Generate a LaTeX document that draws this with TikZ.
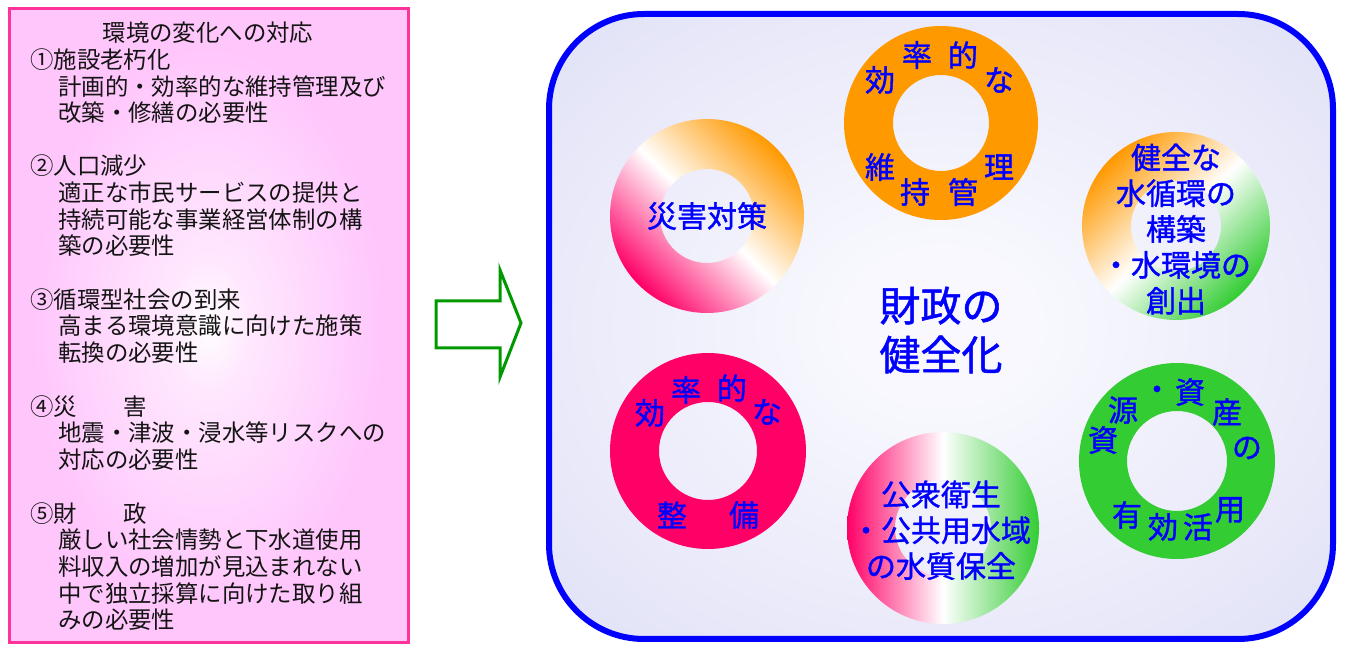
\documentclass[tikz,border=0pt]{standalone}
\usepackage{fontspec}
\setmainfont{Noto Sans CJK JP}
\newfontfamily\bluefont{Noto Sans CJK JP}[FakeBold=1.2]
\usetikzlibrary{shadings}
\definecolor{pinkborder}{RGB}{255,51,153}
\definecolor{pinkfill}{RGB}{255,198,252}
\definecolor{lav}{RGB}{228,228,248}
\definecolor{lavc}{RGB}{248,248,254}
\definecolor{ringorange}{RGB}{255,153,0}
\definecolor{ringpink}{RGB}{255,0,102}
\definecolor{ringgreen}{RGB}{51,204,51}
\definecolor{arrowgreen}{RGB}{0,153,0}
\definecolor{txtblue}{RGB}{0,0,255}
\definecolor{txtdark}{RGB}{20,20,20}
\pgfdeclareradialshading{leftpanel}{\pgfpoint{0bp}{0bp}}{color(0bp)=(white); color(5bp)=(white!60!pinkfill); color(22bp)=(pinkfill); color(100bp)=(pinkfill)}
\pgfdeclareradialshading{mainpanel}{\pgfpoint{0bp}{0bp}}{color(0bp)=(lavc); color(6bp)=(lavc); color(32bp)=(lav); color(100bp)=(lav)}
\tikzset{
  lefttxt/.style={anchor=west, inner sep=0pt, text=txtdark, font=\fontsize{11.7pt}{13.3pt}\selectfont},
  ringtxt/.style={inner sep=0pt, text=txtblue, font=\fontsize{15pt}{17.9pt}\selectfont\bluefont},
  ringmulti/.style={ringtxt, align=center},
}
\begin{document}
\begin{tikzpicture}[x=0.5pt,y=-0.5pt]
\useasboundingbox (0,0) rectangle (1346,646);
% left panel
\path[shading=leftpanel] (9,9) rectangle (408,643);
\draw[pinkborder, line width=1.5pt] (9,9) rectangle (408,643);
\node[inner sep=0pt, text=txtdark, font=\fontsize{11.7pt}{13.3pt}\selectfont] (title) at (208,33) {環境の変化への対応};
\foreach \t/\x/\y [count=\i] in {
  ①施設老朽化/30/60,
  計画的・効率的な維持管理及び/58/87,
  改築・修繕の必要性/58/113,
  ②人口減少/30/166,
  適正な市民サービスの提供と/58/193,
  持続可能な事業経営体制の構/58/220,
  築の必要性/58/246,
  ③循環型社会の到来/30/300,
  高まる環境意識に向けた施策/58/326,
  転換の必要性/58/353,
  ④災　　害/30/407,
  地震・津波・浸水等リスクへの/58/433,
  対応の必要性/58/460,
  ⑤財　　政/30/514,
  厳しい社会情勢と下水道使用/58/540,
  料収入の増加が見込まれない/58/567,
  中で独立採算に向けた取り組/58/594,
  みの必要性/58/620}
  {\node[lefttxt] (L\i) at (\x,\y) {\t};}
% arrow
\draw[arrowgreen, line width=1.5pt, line join=miter] (436,301) -- (500,301) -- (500,270) -- (521,323) -- (500,377) -- (500,348) -- (436,348) -- cycle;
% main panel
\path[shading=mainpanel, rounded corners=47.5pt] (549,14) rectangle (1333,639);
\draw[blue, line width=3pt, rounded corners=47.5pt] (549,14) rectangle (1333,639);
% ring 1
\shade[even odd rule, left color=ringpink, right color=ringorange, middle color=white, shading angle=135] (707,216) circle (48.5pt) (707,216) circle (23.5pt);
\node[ringtxt] (r1) at (707,216) {災害対策};
% ring 2
\fill[ringorange, even odd rule] (941,123) circle (48.5pt) (941,123) circle (24pt);
\node[ringtxt] (r2a) at (880,80) {効};
\node[ringtxt] (r2b) at (917,55) {率};
\node[ringtxt] (r2c) at (963,55) {的};
\node[ringtxt] (r2d) at (999,80) {な};
\node[ringtxt] (r2e) at (880,167) {維};
\node[ringtxt] (r2f) at (915,192) {持};
\node[ringtxt] (r2g) at (963,192) {管};
\node[ringtxt] (r2h) at (999,167) {理};
% ring 3
\shade[even odd rule, left color=ringorange, right color=ringgreen, middle color=white, shading angle=45] (1176,226) circle (47pt) (1176,226) circle (22.5pt);
\node[ringmulti] (r3) at (1176,229) {健全な\\水循環の\\構築\\・水環境の\\創出};
% ring 4
\fill[ringpink, even odd rule] (708,451) circle (49pt) (708,451) circle (24.5pt);
\node[ringtxt] (r4a) at (650,413) {効};
\node[ringtxt] (r4b) at (686,390) {率};
\node[ringtxt] (r4c) at (732,388) {的};
\node[ringtxt] (r4d) at (767,412) {な};
\node[ringtxt] (r4e) at (672,515) {整};
\node[ringtxt] (r4f) at (744,515) {備};
% ring 5
\shade[even odd rule, left color=ringpink, right color=ringgreen, middle color=white] (943,528) circle (48pt) (943,528) circle (24pt);
\node[ringmulti, text depth=0pt] (r5) at (941,529) {公衆衛生\\・公共用水域\\の水質保全};
% ring 6
\fill[ringgreen, even odd rule] (1177,461) circle (49pt) (1177,461) circle (25pt);
\node[ringtxt] (r6a) at (1103,440) {資};
\node[ringtxt] (r6b) at (1123,410) {源};
\node[ringtxt] (r6c) at (1157,393) {・};
\node[ringtxt] (r6d) at (1190,392) {資};
\node[ringtxt] (r6e) at (1227,412) {産};
\node[ringtxt] (r6f) at (1247,448) {の};
\node[ringtxt] (r6g) at (1127,515) {有};
\node[ringtxt] (r6h) at (1163,527) {効};
\node[ringtxt] (r6i) at (1198,527) {活};
\node[ringtxt] (r6j) at (1230,510) {用};
% centre
\node[inner sep=0pt, text=txtblue, align=center, font=\fontsize{20.5pt}{24.5pt}\selectfont\bluefont] (centre) at (941,330) {財政の\\健全化};
\end{tikzpicture}
\end{document}
